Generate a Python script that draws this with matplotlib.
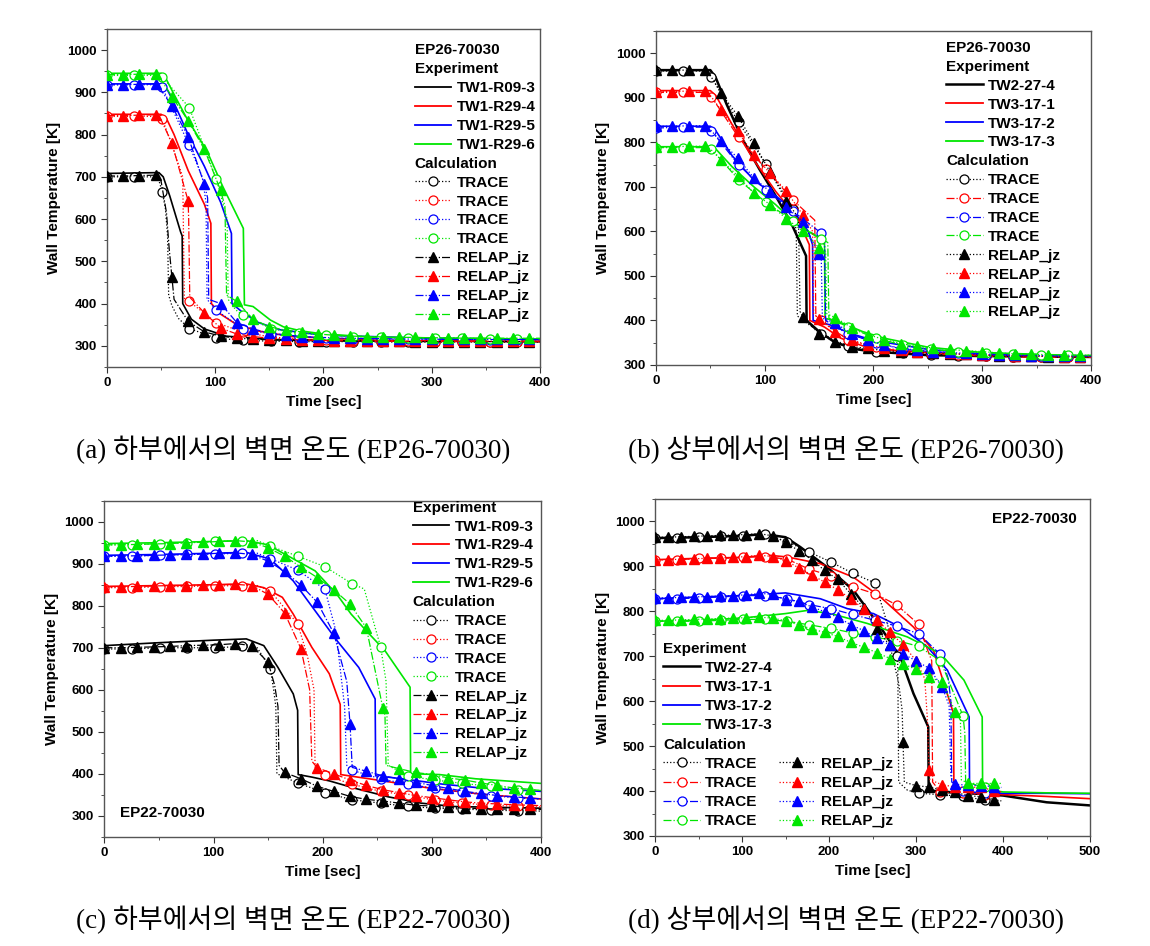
import matplotlib.pyplot as plt
from matplotlib.lines import Line2D
from matplotlib.ticker import MultipleLocator

plt.rcParams['font.family'] = ['Liberation Sans', 'DejaVu Sans']
plt.rcParams['font.weight'] = 'bold'

colors = ['#000000', '#ff0000', '#0000ff', '#00e600']

# marker times of the calculations
trace_times = [0, 25, 51, 76, 101, 126, 152, 177, 202, 227, 253, 278, 303, 328, 354, 379]
relap_times = [0, 15, 30, 45, 60, 75, 90, 105, 120, 135, 150, 165, 180, 195,
               210, 225, 240, 255, 270, 285, 300, 315, 330, 345, 360, 375, 390]

# ---------------- (a) lower part, EP26-70030 ----------------
a_names = ['TW1-R09-3', 'TW1-R29-4', 'TW1-R29-5', 'TW1-R29-6']
a_exp_t = [
    [0, 48, 52, 58, 68, 69.5, 70, 78, 90, 110, 150, 250, 400],
    [0, 50, 55, 62, 75, 90, 96, 96.5, 105, 120, 140, 170, 250, 400],
    [0, 50, 55, 62, 75, 90, 105, 115, 115.5, 125, 140, 160, 200, 300, 400],
    [0, 50, 55, 62, 73, 92, 107, 126, 127, 135, 151, 163, 180, 200, 250, 400],
]
a_exp_T = [
    [708, 710, 700, 655, 570, 560, 400, 363, 340, 323, 315, 312, 310],
    [848, 848, 838, 800, 715, 635, 590, 400, 375, 350, 335, 322, 313, 310],
    [920, 920, 910, 875, 800, 725, 640, 566, 400, 380, 355, 338, 325, 318, 315],
    [945, 945, 930, 895, 842, 763, 677, 578, 397, 393, 361, 345, 335, 328, 320, 316],
]
a_trace_T = [
    [700, 700, 665, 341, 318, 313, 311, 310, 310, 310, 309, 309, 309, 309, 309, 309],
    [843, 843, 838, 405, 355, 332, 321, 316, 313, 312, 311, 311, 310, 310, 310, 310],
    [918, 918, 912, 775, 384, 340, 328, 322, 319, 317, 316, 315, 315, 315, 314, 314],
    [940, 940, 936, 864, 695, 372, 340, 330, 325, 322, 320, 319, 318, 318, 317, 317],
]
a_trace_knees = [
    [(47, 700), (54, 625), (56, 560), (57, 420), (60, 395), (66, 365), (400, 309)],
    [(47, 843), (58, 790), (70, 700), (71.5, 410), (400, 310)],
    [(47, 918), (88, 700), (91.5, 640), (92.5, 410), (400, 314)],
    [(47, 940), (111, 600), (112, 410), (119, 385), (400, 317)],
]
a_relap_T = [
    [702, 702, 703, 704, 463, 358, 333, 323, 318, 316, 314, 313, 312, 312,
     311, 311, 311, 311, 311, 310, 310, 310, 310, 310, 310, 310, 310],
    [845, 845, 846, 847, 780, 643, 378, 342, 328, 322, 318, 316, 314, 313,
     312, 312, 312, 311, 311, 311, 311, 311, 311, 311, 311, 311, 311],
    [918, 918, 919, 920, 868, 795, 682, 400, 355, 340, 330, 326, 322, 320,
     319, 318, 317, 317, 316, 316, 316, 315, 315, 315, 315, 315, 315],
    [942, 942, 943, 943, 890, 833, 765, 668, 405, 363, 345, 337, 333, 328,
     325, 323, 322, 321, 320, 320, 319, 319, 318, 318, 318, 318, 318],
]
a_relap_knees = [
    [(50, 690), (55, 615), (57.5, 530), (62, 410), (400, 310)],
    [(50, 835), (75.5, 600), (76.5, 415), (400, 311)],
    [(50, 905), (93, 650), (94, 410), (400, 315)],
    [(50, 930), (109, 630), (110.5, 420), (400, 318)],
]

# ---------------- (b) upper part, EP26-70030 ----------------
b_names = ['TW2-27-4', 'TW3-17-1', 'TW3-17-2', 'TW3-17-3']
b_exp_t = [
    [0, 50, 55, 65, 80, 95, 110, 125, 138, 138.5, 150, 165, 185, 200, 250, 300, 400],
    [0, 50, 55, 70, 90, 110, 130, 141, 141.5, 155, 170, 190, 220, 300, 400],
    [0, 50, 55, 70, 90, 110, 125, 140, 144, 144.5, 160, 180, 200, 250, 300, 400],
    [0, 50, 55, 70, 90, 110, 130, 150, 155, 155.5, 170, 190, 210, 250, 300, 400],
]
b_exp_T = [
    [962, 962, 945, 885, 805, 740, 680, 615, 545, 400, 375, 350, 335, 330, 322, 320, 318],
    [916, 916, 905, 840, 760, 690, 630, 570, 400, 385, 360, 343, 332, 322, 318],
    [836, 836, 826, 770, 715, 680, 650, 600, 570, 400, 390, 370, 355, 335, 325, 320],
    [790, 790, 785, 745, 700, 660, 615, 585, 570, 405, 395, 375, 360, 340, 328, 320],
]
b_trace_T = [
    [960, 960, 946, 845, 751, 650, 370, 342, 330, 326, 323, 321, 320, 319, 318, 318],
    [912, 912, 902, 811, 740, 670, 400, 355, 340, 330, 325, 322, 320, 318, 317, 317],
    [832, 834, 826, 749, 693, 645, 596, 370, 350, 335, 330, 326, 323, 321, 320, 320],
    [788, 788, 785, 716, 665, 624, 583, 385, 360, 345, 335, 330, 327, 325, 323, 322],
]
b_trace_knees = [
    [(47, 960), (129, 600), (130, 410), (400, 318)],
    [(47, 912), (146, 625), (147, 410), (400, 317)],
    [(47, 834), (155, 588), (156, 400), (165, 385), (400, 320)],
    [(47, 788), (158, 575), (159, 405), (400, 322)],
]
b_relap_T = [
    [962, 962, 962, 963, 910, 860, 798, 733, 669, 408, 370, 352, 341, 337,
     332, 330, 328, 326, 325, 324, 322, 321, 320, 320, 319, 318, 318],
    [914, 914, 915, 916, 872, 825, 772, 730, 690, 637, 403, 374, 356, 345,
     338, 333, 330, 328, 326, 324, 323, 322, 321, 320, 320, 319, 319],
    [836, 836, 837, 837, 802, 765, 720, 689, 654, 622, 550, 394, 370, 355,
     345, 338, 333, 330, 328, 326, 325, 323, 322, 321, 321, 320, 320],
    [790, 790, 791, 791, 760, 725, 686, 660, 628, 601, 563, 406, 384, 368,
     357, 348, 342, 338, 335, 332, 330, 327, 325, 324, 323, 322, 322],
]
b_relap_knees = [
    [(50, 950), (131, 630), (132.5, 420), (400, 318)],
    [(50, 905), (144, 600), (145, 415), (400, 319)],
    [(50, 828), (152, 540), (153, 405), (400, 320)],
    [(50, 785), (156, 555), (157, 415), (400, 322)],
]

# ---------------- (c) lower part, EP22-70030 ----------------
c_names = ['TW1-R09-3', 'TW1-R29-4', 'TW1-R29-5', 'TW1-R29-6']
c_exp_t = [
    [0, 50, 100, 130, 146, 159, 173, 177, 177.5, 190, 206, 230, 260, 290, 320, 400],
    [0, 50, 100, 130, 146, 163, 173, 190, 206, 216, 216.5, 250, 300, 350, 400],
    [0, 50, 100, 130, 152, 173, 193, 213, 233, 248, 248.5, 273, 307, 341, 400],
    [0, 50, 100, 130, 150, 163, 193, 213, 226, 240, 257, 280, 280.5, 307, 340, 400],
]
c_exp_T = [
    [705, 712, 718, 721, 705, 653, 590, 551, 398, 392, 383, 365, 345, 330, 322, 318],
    [846, 848, 850, 852, 843, 820, 780, 701, 638, 565, 398, 385, 365, 350, 340],
    [920, 922, 925, 927, 911, 859, 788, 717, 653, 578, 395, 388, 376, 367, 358],
    [948, 950, 953, 955, 945, 926, 883, 827, 780, 740, 693, 606, 400, 398, 388, 377],
]
c_trace_T = [
    [697, 697, 700, 700, 700, 703, 650, 378, 355, 338, 330, 322, 318, 316, 313, 312],
    [843, 843, 845, 846, 847, 848, 835, 757, 396, 375, 358, 349, 337, 330, 325, 322],
    [918, 918, 920, 922, 923, 925, 912, 885, 839, 408, 388, 375, 365, 356, 348, 342],
    [945, 945, 948, 950, 953, 955, 942, 918, 893, 852, 702, 394, 385, 377, 370, 362],
]
c_trace_knees = [
    [(140, 700), (155, 600), (157, 560), (158, 400), (165, 392), (400, 311)],
    [(140, 848), (186, 680), (192, 600), (193, 410), (400, 321)],
    [(140, 925), (212, 740), (220, 560), (222, 420), (400, 340)],
    [(140, 955), (238, 840), (258, 620), (260, 420), (400, 360)],
]
c_relap_T = [
    [700, 700, 701, 702, 703, 705, 706, 707, 710, 705, 665, 403, 388, 370,
     358, 346, 339, 335, 330, 325, 323, 320, 318, 317, 316, 316, 315],
    [845, 845, 846, 847, 848, 848, 849, 850, 851, 848, 827, 783, 698, 414,
     400, 385, 372, 362, 355, 348, 343, 338, 333, 330, 328, 326, 325],
    [918, 918, 919, 920, 921, 922, 923, 925, 926, 922, 906, 882, 849, 808,
     735, 518, 406, 395, 388, 380, 372, 365, 358, 353, 348, 345, 342],
    [945, 945, 946, 947, 948, 950, 951, 953, 955, 952, 938, 918, 892, 867,
     838, 804, 747, 557, 412, 403, 398, 390, 385, 378, 372, 366, 363],
]
c_relap_knees = [
    [(156, 610), (159, 560), (160, 420), (400, 315)],
    [(188, 600), (190, 430), (400, 324)],
    [(222, 620), (227, 415), (400, 340)],
    [(257, 540), (258, 420), (400, 360)],
]

# ---------------- (d) upper part, EP22-70030 ----------------
d_names = ['TW2-27-4', 'TW3-17-1', 'TW3-17-2', 'TW3-17-3']
d_exp_t = [
    [0, 50, 100, 125, 150, 167, 198, 228, 259, 282, 297, 314, 314.5, 330, 370, 400, 450, 500],
    [0, 50, 100, 130, 152, 190, 228, 259, 297, 320, 343, 343.5, 370, 400, 450, 500],
    [0, 50, 100, 150, 190, 221, 251, 282, 313, 336, 361, 361.5, 400, 450, 500],
    [0, 50, 100, 150, 175, 202, 244, 290, 328, 355, 376, 376.5, 400, 450, 500],
]
d_exp_T = [
    [963, 965, 968, 972, 965, 943, 898, 847, 765, 698, 617, 543, 402, 398, 394, 390, 375, 368],
    [915, 918, 920, 925, 921, 906, 876, 832, 765, 713, 573, 400, 395, 392, 388, 383],
    [828, 832, 835, 841, 828, 806, 795, 765, 721, 669, 565, 397, 395, 395, 394],
    [778, 780, 785, 795, 802, 795, 773, 743, 706, 647, 565, 405, 398, 396, 395],
]
d_trace_T = [
    [963, 963, 965, 967, 968, 972, 955, 932, 910, 885, 863, 700, 395, 392, 388, 380],
    [915, 915, 918, 918, 920, 922, 916, 894, 879, 855, 839, 814, 771, 398, 395, 392],
    [828, 828, 830, 832, 835, 835, 828, 815, 806, 793, 780, 767, 750, 704, 400, 395],
    [778, 778, 778, 780, 782, 782, 778, 770, 762, 752, 742, 735, 722, 690, 567, 408],
]
d_trace_knees = [
    [(279, 680), (280, 420), (290, 402), (395, 378)],
    [(312, 720), (318, 690), (319, 420), (395, 390)],
    [(337, 650), (340, 600), (341, 420), (395, 393)],
    [(356, 530), (357, 420), (395, 405)],
]
d_relap_T = [
    [965, 965, 966, 967, 968, 969, 970, 971, 973, 968, 954, 935, 915, 891,
     871, 839, 808, 760, 724, 509, 412, 409, 402, 397, 390, 387, 381],
    [915, 915, 916, 917, 918, 919, 920, 922, 925, 922, 913, 897, 881, 865,
     848, 828, 805, 781, 753, 726, 690, 446, 414, 409, 408, 409, 400],
    [830, 830, 831, 832, 833, 834, 835, 837, 840, 838, 826, 822, 810, 799,
     787, 770, 757, 740, 725, 705, 690, 673, 632, 415, 413, 412, 410],
    [780, 780, 781, 782, 783, 784, 785, 786, 787, 785, 779, 770, 761, 753,
     744, 731, 720, 708, 695, 683, 671, 654, 642, 577, 417, 417, 417],
]
d_relap_knees = [
    [(280, 640), (284, 580), (286.5, 420), (398, 378)],
    [(310, 650), (313, 560), (316, 425), (398, 398)],
    [(338, 590), (340, 430), (398, 408)],
    [(351, 560), (352, 425), (398, 417)],
]

captions = ['(a) 하부에서의 벽면 온도 (EP26-70030)', '(b) 상부에서의 벽면 온도 (EP26-70030)',
            '(c) 하부에서의 벽면 온도 (EP22-70030)', '(d) 상부에서의 벽면 온도 (EP22-70030)']


def merge(times, values, knees):
    # marker points plus extra break points of the curve, in time order
    pts = sorted([(t, v, True) for t, v in zip(times, values)] + [(t, v, False) for t, v in knees])
    xs = [p[0] for p in pts]
    ys = [p[1] for p in pts]
    mark = [i for i, p in enumerate(pts) if p[2]]
    return xs, ys, mark


def draw_panel(ax, exp_t, exp_T, trace_T, trace_knees, relap_T, relap_knees,
               trace_ls, relap_ls, exp_lw):
    for k in range(4):
        ax.plot(exp_t[k], exp_T[k], color=colors[k], lw=exp_lw[k], zorder=2)
    for k in range(4):
        x, y, m = merge(trace_times, trace_T[k], trace_knees[k])
        ax.plot(x, y, color=colors[k], ls=trace_ls[k], lw=0.9, marker='o', ms=6.5,
                mfc='white', mec=colors[k], mew=0.9, markevery=m, zorder=3)
    for k in range(4):
        x, y, m = merge(relap_times, relap_T[k], relap_knees[k])
        ax.plot(x, y, color=colors[k], ls=relap_ls, lw=0.9, marker='^', ms=7,
                mfc=colors[k], mec=colors[k], markevery=m, zorder=4)


def style_axes(ax, xmax, ymin):
    ax.set_xlim(0, xmax)
    ax.set_ylim(ymin, 1050)
    ax.xaxis.set_major_locator(MultipleLocator(100))
    ax.xaxis.set_minor_locator(MultipleLocator(50))
    ax.yaxis.set_major_locator(MultipleLocator(100))
    ax.yaxis.set_minor_locator(MultipleLocator(50))
    ax.tick_params(which='both', direction='out', top=False, right=False,
                   labelsize=9.5, color='#333333')
    ax.tick_params(which='major', length=4)
    ax.tick_params(which='minor', length=2.5)
    for sp in ax.spines.values():
        sp.set_color('#555555')
        sp.set_linewidth(1.0)
    ax.set_xlabel('Time [sec]', fontsize=11, fontweight='bold')
    ax.set_ylabel('Wall Temperature [K]', fontsize=11, fontweight='bold')


def handles_for(trace_ls, relap_ls):
    exp_h = [Line2D([], [], color=c, lw=1.3) for c in colors]
    tr_h = [Line2D([], [], color=c, ls=trace_ls[k], lw=0.9, marker='o', ms=6.5,
                   mfc='white', mec=c, mew=0.9) for k, c in enumerate(colors)]
    re_h = [Line2D([], [], color=c, ls=relap_ls, lw=0.9, marker='^', ms=7,
                   mfc=c, mec=c) for c in colors]
    return exp_h, tr_h, re_h


HL, HP, FS = 2.4, 0.35, 11
headers = ['EP26-70030', 'EP22-70030', 'Experiment', 'Calculation']


def make_legend(ax, handles, labels, anchor, ncol=1, colspacing=0.8, spacing=0.32):
    leg = ax.legend(handles, labels, loc='upper left', bbox_to_anchor=anchor, ncol=ncol,
                    frameon=False, handlelength=HL, handletextpad=HP, labelspacing=spacing,
                    borderpad=0, borderaxespad=0, columnspacing=colspacing,
                    prop={'weight': 'bold', 'size': FS})
    shift = (HL + HP) * FS * 100 / 72
    for lab, txt in zip(labels, leg.get_texts()):
        if lab in headers:
            txt.set_x(-shift)
    return leg


fig = plt.figure(figsize=(11.5, 9.46), dpi=100)
ax_a = fig.add_axes([0.0930, 0.6121, 0.3765, 0.3573])
ax_b = fig.add_axes([0.5704, 0.6142, 0.3783, 0.3531])
ax_c = fig.add_axes([0.0908, 0.1155, 0.3797, 0.3552])
ax_d = fig.add_axes([0.5696, 0.1163, 0.3783, 0.3562])

blank = Line2D([], [], linestyle='none')

# (a)
ls_a = [':', ':', ':', ':']
draw_panel(ax_a, a_exp_t, a_exp_T, a_trace_T, a_trace_knees, a_relap_T, a_relap_knees,
           ls_a, '-.', [1.2, 1.2, 1.2, 1.2])
style_axes(ax_a, 400, 250)
e, t, r = handles_for(ls_a, '-.')
make_legend(ax_a, [blank, blank] + e + [blank] + t + r,
            ['EP26-70030', 'Experiment'] + a_names + ['Calculation'] + ['TRACE'] * 4 + ['RELAP_jz'] * 4,
            (0.711, 0.957))

# (b)
ls_b = [':', '-.', '-.', '-.']
draw_panel(ax_b, b_exp_t, b_exp_T, b_trace_T, b_trace_knees, b_relap_T, b_relap_knees,
           ls_b, ':', [1.8, 1.2, 1.2, 1.2])
style_axes(ax_b, 400, 300)
e, t, r = handles_for(ls_b, ':')
e[0].set_linewidth(1.8)
make_legend(ax_b, [blank, blank] + e + [blank] + t + r,
            ['EP26-70030', 'Experiment'] + b_names + ['Calculation'] + ['TRACE'] * 4 + ['RELAP_jz'] * 4,
            (0.667, 0.97))

# (c)
draw_panel(ax_c, c_exp_t, c_exp_T, c_trace_T, c_trace_knees, c_relap_T, c_relap_knees,
           ls_a, '-.', [1.2, 1.2, 1.2, 1.2])
style_axes(ax_c, 400, 250)
e, t, r = handles_for(ls_a, '-.')
make_legend(ax_c, [blank] + e + [blank] + t + r,
            ['Experiment'] + c_names + ['Calculation'] + ['TRACE'] * 4 + ['RELAP_jz'] * 4,
            (0.706, 1.0))
ax_c.text(0.035, 0.07, 'EP22-70030', transform=ax_c.transAxes, fontsize=11,
          fontweight='bold', va='center', ha='left')

# (d)
draw_panel(ax_d, d_exp_t, d_exp_T, d_trace_T, d_trace_knees, d_relap_T, d_relap_knees,
           ls_b, ':', [1.8, 1.2, 1.2, 1.2])
style_axes(ax_d, 500, 300)
e, t, r = handles_for(ls_b, ':')
e[0].set_linewidth(1.8)
col1_h = [blank] + e + [blank] + t
col1_l = ['Experiment'] + d_names + ['Calculation'] + ['TRACE'] * 4
col2_h = [blank] * 6 + r
col2_l = [''] * 6 + ['RELAP_jz'] * 4
make_legend(ax_d, col1_h + col2_h, col1_l + col2_l, (0.019, 0.577), ncol=2,
            colspacing=-0.65, spacing=0.34)
ax_d.text(0.97, 0.94, 'EP22-70030', transform=ax_d.transAxes, fontsize=11,
          fontweight='bold', va='center', ha='right')

# captions
cap_pos = [(293, 450), (846, 450), (293, 920), (846, 920)]
for (px, py), cap in zip(cap_pos, captions):
    fig.text(px / 1150, 1 - py / 946, cap, ha='center', va='center', fontsize=19.5,
             fontweight='normal', family=['Liberation Serif', 'Noto Sans CJK KR'])

fig.savefig('out.png', dpi=100)
